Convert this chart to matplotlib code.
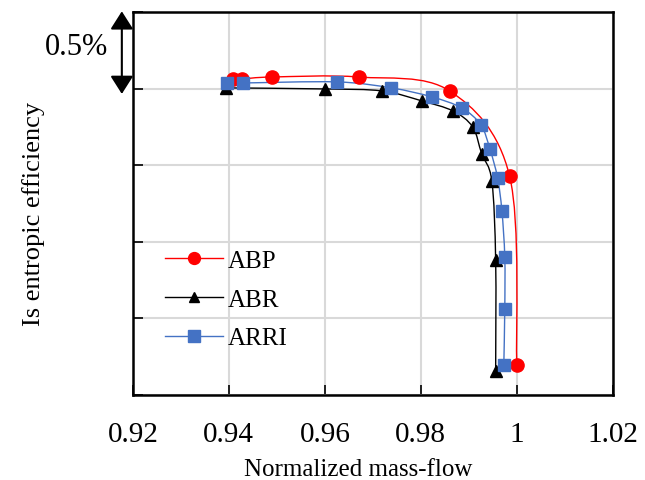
import numpy as np
import matplotlib
matplotlib.use("Agg")
import matplotlib.pyplot as plt
from matplotlib.path import Path
from matplotlib.patches import PathPatch

plt.rcParams['font.family'] = ['Liberation Serif', 'DejaVu Serif']

# efficiency in % relative to bottom of plot (axis labels are hidden)
abp_x = [0.9408, 0.9427, 0.9490, 0.9671, 0.9860, 0.9985, 1.0000]
abp_y = [2.065, 2.065, 2.078, 2.078, 1.987, 1.431, 0.196]

abr_x = [0.9394, 0.9600, 0.9719, 0.9802, 0.9867, 0.9908, 0.9927, 0.9948, 0.9956, 0.9956]
abr_y = [2.007, 2.000, 1.987, 1.922, 1.856, 1.752, 1.575, 1.399, 0.882, 0.157]

arri_x = [0.9396, 0.9429, 0.9625, 0.9738, 0.9823, 0.9885, 0.9925, 0.9944, 0.9960, 0.9969, 0.9975, 0.9975, 0.9973]
arri_y = [2.039, 2.039, 2.046, 2.007, 1.948, 1.876, 1.765, 1.608, 1.418, 1.203, 0.902, 0.562, 0.196]

xticks = [0.92, 0.94, 0.96, 0.98, 1.0, 1.02]
xlabels = ['0.92', '0.94', '0.96', '0.98', '1', '1.02']


def smooth_path(xs, ys):
    # excel-like smoothed line: bezier segments with catmull-rom control points
    p = np.column_stack([xs, ys])
    n = len(p)
    verts = [p[0]]
    codes = [Path.MOVETO]
    for i in range(n - 1):
        p0 = p[i - 1] if i > 0 else p[i]
        p3 = p[i + 2] if i + 2 < n else p[i + 1]
        c1 = p[i] + (p[i + 1] - p0) / 6
        c2 = p[i + 1] - (p3 - p[i]) / 6
        verts += [c1, c2, p[i + 1]]
        codes += [Path.CURVE4] * 3
    return Path(verts, codes)


fig = plt.figure(figsize=(6.45, 4.81), dpi=100)
ax = fig.add_axes([0.206, 0.177, 0.744, 0.795])

series = [
    (abp_x, abp_y, '#ff0000', '#ff0000', 'o', 9.5, 'ABP'),
    (abr_x, abr_y, '#000000', '#000000', '^', 8, 'ABR'),
    (arri_x, arri_y, '#4472c4', '#4472c4', 's', 9, 'ARRI'),
]
for xs, ys, lc, mc, m, ms, lab in series:
    ax.add_patch(PathPatch(smooth_path(xs, ys), facecolor='none', edgecolor=lc, lw=1.0, zorder=3))
    ax.plot(xs, ys, ls='none', marker=m, ms=ms, color=mc, zorder=4)
    ax.plot([], [], color=lc, lw=1.0, marker=m, ms=ms * 0.9, mfc=mc, mec=mc, label=lab)

ax.set_xlim(0.92, 1.02)
ax.set_ylim(0, 2.5)
ax.set_xticks(xticks)
ax.set_xticklabels(xlabels)
ax.set_yticks(np.arange(0, 2.51, 0.5))
ax.set_yticklabels([])
ax.tick_params(direction='in', length=7, width=1.2, labelsize=21, pad=19)
ax.grid(True, color='#d9d9d9', lw=1.5)
ax.set_axisbelow(True)
for s in ax.spines.values():
    s.set_linewidth(1.8)
    s.set_color('black')

ax.set_xlabel('Normalized mass-flow', fontsize=18, va='center')
ax.xaxis.set_label_coords(0.47, -0.194)
ax.set_ylabel('Is entropic efficiency', fontsize=19, va='center')
ax.yaxis.set_label_coords(-0.208, 0.476)

leg = ax.legend(loc='center left', bbox_to_anchor=(0.067, 0.25), frameon=False,
                fontsize=18, handlelength=2.3, handletextpad=0.2, labelspacing=0.65,
                borderaxespad=0, borderpad=0)

# 0.5% scale arrow outside the left spine
ax.annotate('', xy=(-0.023, 1.003), xytext=(-0.023, 0.787), xycoords='axes fraction',
            arrowprops=dict(arrowstyle='<|-|>,head_length=11,head_width=7', color='black',
                            lw=1.5, mutation_scale=1, shrinkA=0, shrinkB=0),
            annotation_clip=False)
ax.text(-0.118, 0.912, '0.5%', transform=ax.transAxes, ha='center', va='center', fontsize=22)

fig.savefig('out.png', dpi=100)
